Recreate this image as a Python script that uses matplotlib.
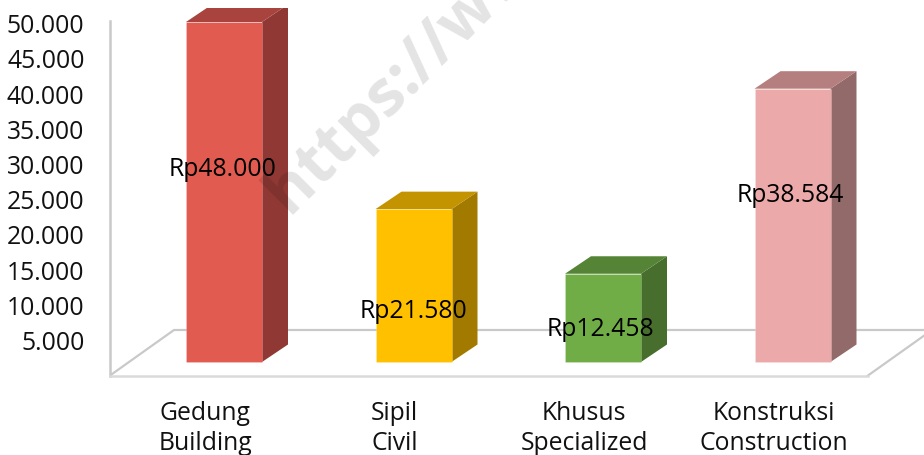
import matplotlib
matplotlib.use("Agg")
import matplotlib.pyplot as plt
from matplotlib.patches import Polygon

categories = ["Gedung\nBuilding", "Sipil\nCivil", "Khusus\nSpecialized", "Konstruksi\nConstruction"]
values = [48000, 21580, 12458, 38584]
value_labels = ["Rp48.000", "Rp21.580", "Rp12.458", "Rp38.584"]
label_heights = [27200, 7200, 4650, 23450]
label_shifts = [-0.005, 0.002, -0.012, -0.012]
tick_values = [5000, 10000, 15000, 20000, 25000, 30000, 35000, 40000, 45000, 50000]
tick_labels = ["5.000", "10.000", "15.000", "20.000", "25.000", "30.000", "35.000", "40.000", "45.000", "50.000"]
front_colors = ["#E15B50", "#FFC000", "#70AD47", "#ECA9A9"]
side_colors = ["#8F3834", "#A37A00", "#476E2D", "#926A6A"]
top_colors = ["#A8433E", "#C49300", "#568436", "#B67F7F"]

W, H = 924, 455
FONT = "Open Sans"
PX = 0.72  # px -> pt at dpi 100
SIZE = 24.8 * PX

fig = plt.figure(figsize=(W / 100, H / 100), dpi=100)
left, right, top, bottom = 109.5, 924, 8, 375.5
ax = fig.add_axes([left / W, 1 - bottom / H, (right - left) / W, (bottom - top) / H])

x_step = 189.5
x0 = 224
y_scale = 340 / 48000      # px per value unit
base_px = 362
ax.set_xlim((left - x0) / x_step, (right - x0) / x_step)
ax.set_ylim((base_px - bottom) / y_scale, (base_px - top) / y_scale)

bar_w = 76 / x_step
dx = 26 / x_step
dy = 17.5 / y_scale

positions = list(range(len(values)))

# floor
floor_front = (base_px - bottom) / y_scale
floor_back = (base_px - 330) / y_scale
x_floor_l = (110 - x0) / x_step
x_floor_back_l = (174 - x0) / x_step
x_floor_r = (868 - x0) / x_step
x_floor_back_r = (right + 0 - x0) / x_step
wall = "#C9C9C9"
ax.plot([x_floor_l, x_floor_back_l, x_floor_back_r], [floor_front, floor_back, floor_back],
        color=wall, lw=1.6, zorder=1, solid_joinstyle="miter")
ax.plot([x_floor_r, x_floor_r + (x_floor_back_l - x_floor_l)], [floor_front, floor_back],
        color=wall, lw=1.6, zorder=1)

# bars
ax.bar(positions, values, width=bar_w, color=front_colors, zorder=3,
       edgecolor="#FFFFFF40", linewidth=0.5)
for p, v, sc, tc in zip(positions, values, side_colors, top_colors):
    xr = p + bar_w / 2
    xl = p - bar_w / 2
    ax.add_patch(Polygon([(xr, 0), (xr + dx, dy), (xr + dx, v + dy), (xr, v)],
                         closed=True, facecolor=sc, edgecolor="none", zorder=2))
    ax.add_patch(Polygon([(xl, v), (xl + dx, v + dy), (xr + dx, v + dy), (xr, v)],
                         closed=True, facecolor=tc, edgecolor="none", zorder=2))

for p, lab, h, s in zip(positions, value_labels, label_heights, label_shifts):
    ax.text(p + s, h, lab, ha="center", va="center", fontsize=SIZE,
            family=FONT, color="#000000", zorder=6, clip_on=False)

# axes
tick_scale = 7.044 / (y_scale * 1000)
tick_shift = (base_px - 375.8) / y_scale
ax.set_yticks([t * tick_scale + tick_shift for t in tick_values])
ax.set_yticklabels(tick_labels, family=FONT, fontsize=SIZE, color="#111111")
ax.tick_params(axis="y", length=0, pad=25 * PX)
ax.set_xticks([p - 19 / x_step for p in positions])
ax.set_xticklabels(categories, family=FONT, fontsize=SIZE, color="#111111", linespacing=1.24)
ax.tick_params(axis="x", length=0, pad=26 * PX)
for s in ["top", "right"]:
    ax.spines[s].set_visible(False)
ax.spines["left"].set_color(wall)
ax.spines["left"].set_linewidth(1.8)
ax.spines["left"].set_bounds(floor_front, (base_px - 21) / y_scale)
ax.spines["bottom"].set_color("#DADADA")
ax.spines["bottom"].set_linewidth(1.8)
ax.spines["bottom"].set_bounds(x_floor_l, x_floor_r)

# watermark
fig.text(289 / W, 1 - 215 / H, "https://www", rotation=45, rotation_mode="anchor",
         ha="left", va="baseline", fontsize=64 * PX, fontweight="bold", family=FONT,
         color="#000000", alpha=0.11, zorder=10)

fig.savefig("out.png", dpi=100)
